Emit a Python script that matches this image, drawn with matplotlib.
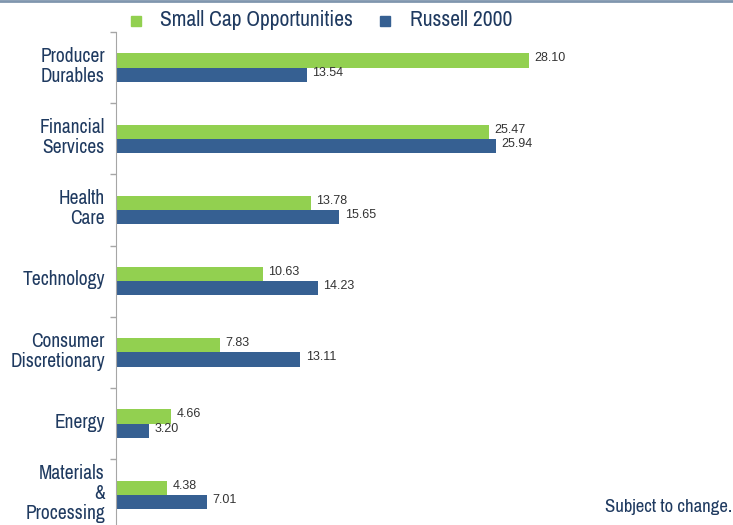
import matplotlib.pyplot as plt
from matplotlib.lines import Line2D
import numpy as np

categories = ['Producer\nDurables', 'Financial\nServices', 'Health\nCare', 'Technology',
              'Consumer\nDiscretionary', 'Energy', 'Materials\n&\nProcessing']
small_cap = [28.10, 25.47, 13.78, 10.63, 7.83, 4.66, 4.38]
russell = [13.54, 25.94, 15.65, 14.23, 13.11, 3.20, 7.01]
series_names = ['Small Cap Opportunities', 'Russell 2000']

green = '#92D050'
blue = '#366092'
navy = '#1F3A60'
narrow = ['Archivo Narrow', 'Roboto Condensed', 'Liberation Sans', 'DejaVu Sans']

W, H = 733, 525
fig = plt.figure(figsize=(W / 100, H / 100), dpi=100)
ax = fig.add_axes([116 / W, 1 - 530.4 / H, 1 - 116 / W - 0.03, 498.4 / H])

y = np.arange(len(categories))
h = 0.2
ax.barh(y - h / 2, small_cap, height=h, color=green)
ax.barh(y + h / 2, russell, height=h, color=blue)

# value labels at bar ends
for yi, v in zip(y, small_cap):
    ax.text(v + 0.35, yi - h / 2 - 0.03, f'{v:.2f}', va='center', ha='left',
            fontsize=9, color='#333333', family=['Liberation Sans', 'DejaVu Sans'])
for yi, v in zip(y, russell):
    ax.text(v + 0.35, yi + h / 2 - 0.03, f'{v:.2f}', va='center', ha='left',
            fontsize=9, color='#333333', family=['Liberation Sans', 'DejaVu Sans'])

ax.set_xlim(1.03, 40)
ax.set_ylim(len(categories) - 0.5, -0.5)

ax.set_yticks(y - 0.05)
ax.set_yticklabels(categories, family=narrow, fontsize=14, color=navy,
                   linespacing=1.05, ha='right', weight='medium')
ax.tick_params(axis='y', which='major', length=0, pad=8)
ax.set_yticks(np.arange(-0.5, len(categories) - 0.5, 1.0), minor=True)
ax.tick_params(axis='y', which='minor', length=4, color='#A6A6A6', width=1)
ax.set_xticks([])

for s in ['top', 'right', 'bottom']:
    ax.spines[s].set_visible(False)
ax.spines['left'].set_color('#A6A6A6')

# legend drawn by hand to match the original spacing
leg_y = 1 - 20 / H
for mx, tx, col, name in [(136, 160, green, series_names[0]),
                          (385, 410, blue, series_names[1])]:
    fig.add_artist(Line2D([mx / W], [leg_y - 1 / H], marker='s', color='none',
                          markerfacecolor=col, markeredgecolor=col, markersize=7,
                          transform=fig.transFigure))
    fig.text(tx / W, leg_y, name, ha='left', va='center', fontsize=15.5,
             color=navy, family=narrow)

fig.add_artist(Line2D([0, 1], [0.998, 0.998], transform=fig.transFigure,
                      color='#8096AE', lw=2))
fig.text(0.999, 1 - 507 / H, 'Subject to change.', ha='right', va='center',
         fontsize=13.5, color=navy, family=narrow)

fig.savefig('out.png', dpi=100)
